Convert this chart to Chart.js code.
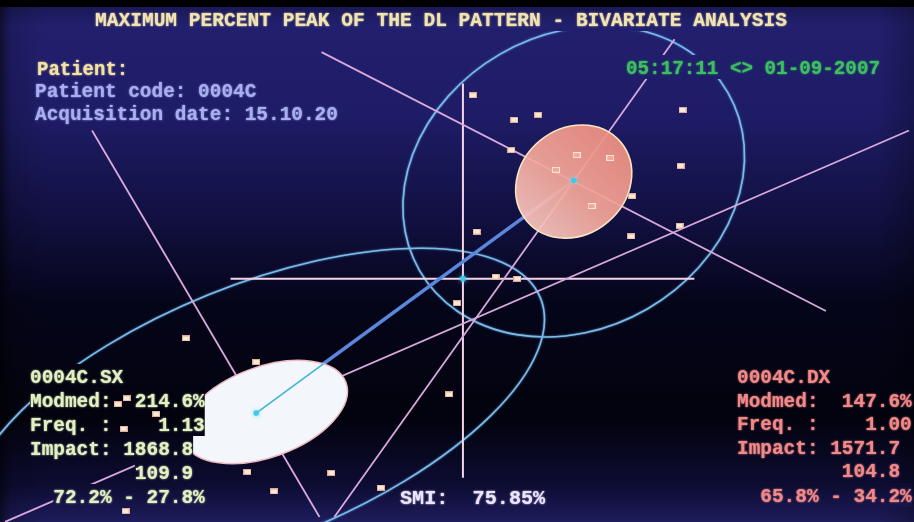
<!DOCTYPE html>
<html>
<head>
<meta charset="utf-8">
<script src="https://cdn.jsdelivr.net/npm/chart.js@4.4.1/dist/chart.umd.min.js"></script>
<style>
html,body{margin:0;padding:0;background:#000;overflow:hidden}
#wrap{width:914px;height:522px;position:relative}
</style>
</head>
<body>
<div id="wrap"><canvas id="c"></canvas></div>
<script>
// ---------------- DATA (screen-plane units) ----------------
const chartTitle = 'MAXIMUM PERCENT PEAK OF THE DL PATTERN - BIVARIATE ANALYSIS';
const patientCode = '0004C';
const acquisitionDate = '15.10.20';
const stamp = '05:17:11 <> 01-09-2007';

// single observations (small square marks)
const markerX = [473, 515, 539, 685, 512, 683, 634, 682, 633, 477, 496, 518, 457, 183, 254, 449, 245, 330, 272, 380, 123, 114, 153, 120, 122];
const markerY = [ 92, 117, 112, 107, 148, 164, 195, 225, 236, 231, 277, 279, 304, 340, 364, 397, 476, 477, 496, 492, 401, 407, 417, 432, 516];
// observations lying inside the DX core ellipse
const innerX = [578, 612, 557, 593];
const innerY = [153, 156, 168, 205];

// centres of the two sides and the reference cross
const dxCentre = [575, 179];
const sxCentre = [254, 416];
const crossCentre = [463, 279];

// ellipses: DX spread, SX spread, DX core, SX core
const ellipseCX    = [575, 254, 575, 263];
const ellipseCY    = [180, 416, 180, 415];
const ellipseA     = [180, 310,  62,  87];
const ellipseB     = [150, 130,  54,  46];
const ellipseAngle = [-30, -22, -40, -20];

// principal axes and reference lines (end points)
const dxAxis1X = [320, 830], dxAxis1Y = [48, 312];
const dxAxis2X = [677, 333], dxAxis2Y = [35, 522];
const sxAxis1X = [0, 914],   sxAxis1Y = [527, 128];
const sxAxis2X = [88, 318],  sxAxis2Y = [128, 522];
const crossHX  = [228, 697], crossHY  = [279, 279];
const crossVX  = [463, 463], crossVY  = [80, 482];

// side statistics
const sxName = '0004C.SX', dxName = '0004C.DX';
const sxStats = ['214.6%', '1.13', '1868.8', '109.9', '72.2%', '27.8%'];
const dxStats = ['147.6%', '1.00', '1571.7', '104.8', '65.8%', '34.2%'];
const smiValue = '75.85%';

// ---------------- helpers ----------------
const pts = (xs, ys) => xs.map((x, i) => ({x: x, y: ys[i]}));

function markerCanvas(fill, edge) {
  const c = document.createElement('canvas');
  c.width = 8; c.height = 6;
  const g = c.getContext('2d');
  g.fillStyle = edge; g.fillRect(0, 0, 8, 6);
  g.fillStyle = fill; g.fillRect(1, 1, 6, 4);
  return c;
}

function lineSet(xs, ys, color, width) {
  return {data: pts(xs, ys), showLine: true, borderColor: color, borderWidth: width,
          pointRadius: 0, clip: false, fill: false, tension: 0};
}

let bgGrad = null;

function ellipsePath(chart, i) {
  const xs = chart.scales.x, ys = chart.scales.y;
  const cx = xs.getPixelForValue(ellipseCX[i]), cy = ys.getPixelForValue(ellipseCY[i]);
  const rx = Math.abs(xs.getPixelForValue(ellipseCX[i] + ellipseA[i]) - cx);
  const ry = Math.abs(ys.getPixelForValue(ellipseCY[i] + ellipseB[i]) - cy);
  const ctx = chart.ctx;
  ctx.beginPath();
  ctx.ellipse(cx, cy, rx, ry, ellipseAngle[i] * Math.PI / 180, 0, Math.PI * 2);
}

const FONT_PX = 21;
const FONT = 'bold ' + FONT_PX + 'px "Liberation Mono", "DejaVu Sans Mono", monospace';

function drawText(ctx, str, x, y, color, adv) {
  ctx.save();
  ctx.font = FONT;
  const nat = ctx.measureText('M').width;
  ctx.translate(x, y + 7);
  ctx.scale(adv / nat, 1);
  ctx.fillStyle = color;
  ctx.shadowColor = color;
  ctx.shadowBlur = 2;
  ctx.textBaseline = 'alphabetic';
  ctx.textAlign = 'left';
  ctx.fillText(str, 0, 0);
  ctx.restore();
}

function pad(s, n) { while (s.length < n) s = ' ' + s; return s; }

function statRows(name, st) {
  return [
    name,
    'Modmed: ' + pad(st[0], 7),
    'Freq. : ' + pad(st[1], 7),
    'Impact: ' + pad(st[2], 6),
    pad(st[3], 14),
    '  ' + st[4] + ' - ' + st[5]
  ];
}

// text layout
const ADV = 11.65;
const texts = [
  {s: chartTitle, x: 95, y: 19, c: '#f2e4b0', a: 692 / chartTitle.length},
  {s: 'Patient:', x: 37, y: 68, c: '#f4e2a4', a: 11.4},
  {s: 'Patient code: ' + patientCode, x: 35, y: 90, c: '#a9aef0', a: ADV},
  {s: 'Acquisition date: ' + acquisitionDate, x: 35, y: 113, c: '#a9aef0', a: ADV},
  {s: stamp, x: 626, y: 67, c: '#3cbf5e', a: 254 / stamp.length},
  {s: 'SMI:  ' + smiValue, x: 400, y: 497, c: '#ebe4ff', a: 12.1}
];
const sxY = [376, 400, 424, 448, 472, 496];
const dxY = [376, 400, 423, 447, 470, 495];
statRows(sxName, sxStats).forEach((s, i) => texts.push({s: s, x: 30, y: sxY[i], c: '#e3f1c2', a: ADV}));
statRows(dxName, dxStats).forEach((s, i) => texts.push({s: s, x: 737, y: dxY[i], c: '#f28888', a: ADV}));

// ---------------- plugin: screen, ellipses, text ----------------
const crt = {
  id: 'crt',
  beforeDraw(chart) {
    const ctx = chart.ctx, w = chart.width, h = chart.height;
    bgGrad = ctx.createLinearGradient(0, 0, 0, h);
    bgGrad.addColorStop(0.00, '#18164e');
    bgGrad.addColorStop(0.05, '#22206e');
    bgGrad.addColorStop(0.22, '#1e1c66');
    bgGrad.addColorStop(0.42, '#111040');
    bgGrad.addColorStop(0.58, '#05051a');
    bgGrad.addColorStop(0.80, '#03030e');
    bgGrad.addColorStop(0.93, '#0d0c32');
    bgGrad.addColorStop(1.00, '#1e1c5c');
    ctx.save();
    ctx.fillStyle = bgGrad;
    ctx.fillRect(0, 0, w, h);
    const side = ctx.createLinearGradient(0, 0, w, 0);
    side.addColorStop(0, 'rgba(0,0,0,0.55)');
    side.addColorStop(0.012, 'rgba(0,0,0,0.15)');
    side.addColorStop(0.05, 'rgba(0,0,0,0)');
    side.addColorStop(0.96, 'rgba(0,0,0,0)');
    side.addColorStop(1, 'rgba(0,0,0,0.25)');
    ctx.fillStyle = side;
    ctx.fillRect(0, 0, w, h);
    ctx.fillStyle = '#000';
    ctx.fillRect(0, 0, w, 7);
    ctx.restore();
  },
  beforeDatasetsDraw(chart) {
    const ctx = chart.ctx;
    ctx.save();
    ctx.strokeStyle = '#7dbbe4';
    ctx.lineWidth = 1.6;
    ctx.shadowColor = '#5aa0e0';
    ctx.shadowBlur = 2;
    ellipsePath(chart, 0); ctx.stroke();
    ellipsePath(chart, 1); ctx.stroke();
    ctx.restore();
  },
  beforeDatasetDraw(chart, args) {
    if (args.index !== 1) return;
    const ctx = chart.ctx, xs = chart.scales.x, ys = chart.scales.y;
    ctx.save();
    // SX core (opaque white)
    ellipsePath(chart, 3);
    ctx.fillStyle = '#f3f7fb';
    ctx.fill();
    ctx.strokeStyle = '#f0b8c0';
    ctx.lineWidth = 1.5;
    ctx.stroke();
    // cyan inner segment of the link line
    ctx.save();
    ellipsePath(chart, 3);
    ctx.clip();
    ctx.beginPath();
    ctx.moveTo(xs.getPixelForValue(sxCentre[0]), ys.getPixelForValue(sxCentre[1]));
    ctx.lineTo(xs.getPixelForValue(dxCentre[0]), ys.getPixelForValue(dxCentre[1]));
    ctx.strokeStyle = '#3fb4d6';
    ctx.lineWidth = 1.6;
    ctx.stroke();
    ctx.restore();
    // DX core (pink, slightly translucent)
    const cx = xs.getPixelForValue(ellipseCX[2]), cy = ys.getPixelForValue(ellipseCY[2]);
    const g = ctx.createLinearGradient(cx + 45, cy - 50, cx - 45, cy + 50);
    g.addColorStop(0, 'rgba(240,142,128,0.93)');
    g.addColorStop(0.55, 'rgba(244,166,154,0.93)');
    g.addColorStop(1, 'rgba(248,200,194,0.93)');
    ellipsePath(chart, 2);
    ctx.fillStyle = g;
    ctx.fill();
    ctx.strokeStyle = '#f7e4c0';
    ctx.lineWidth = 1.6;
    ctx.stroke();
    // centre dots
    [dxCentre, sxCentre, crossCentre].forEach(p => {
      ctx.beginPath();
      ctx.arc(xs.getPixelForValue(p[0]), ys.getPixelForValue(p[1]), 2.8, 0, Math.PI * 2);
      ctx.fillStyle = '#42c8e8';
      ctx.shadowColor = '#60e0ff';
      ctx.shadowBlur = 4;
      ctx.fill();
    });
    ctx.shadowBlur = 0;
    // text cell backgrounds
    ctx.fillStyle = bgGrad;
    texts.forEach(t => {
      const lead = t.s.length - t.s.replace(/^ +/, '').length;
      ctx.fillRect(t.x + lead * t.a, t.y - 12, (t.s.length - lead) * t.a, 24);
    });
    ctx.restore();
  },
  afterDraw(chart) {
    const ctx = chart.ctx;
    texts.forEach(t => drawText(ctx, t.s, t.x, t.y, t.c, t.a));
  }
};

const outerMark = markerCanvas('#f8ecd6', '#e2a898');
const innerMark = markerCanvas('#f1a898', '#fbe8dc');

new Chart(document.getElementById('c'), {
  type: 'scatter',
  data: {
    datasets: [
      {data: pts(markerX, markerY), pointStyle: outerMark, pointRadius: 4, clip: false, showLine: false},
      {data: pts(innerX, innerY), pointStyle: innerMark, pointRadius: 4, clip: false, showLine: false},
      lineSet([sxCentre[0], dxCentre[0]], [sxCentre[1], dxCentre[1]], '#5a86dc', 3.5),
      lineSet(dxAxis1X, dxAxis1Y, '#d8a8dc', 1.8),
      lineSet(dxAxis2X, dxAxis2Y, '#d8a8dc', 1.8),
      lineSet(sxAxis1X, sxAxis1Y, '#d8a8dc', 1.8),
      lineSet(sxAxis2X, sxAxis2Y, '#d8a8dc', 1.8),
      lineSet(crossHX, crossHY, '#f2d4e6', 2),
      lineSet(crossVX, crossVY, '#f2d4e6', 2)
    ]
  },
  options: {
    responsive: true,
    maintainAspectRatio: false,
    animation: false,
    events: [],
    layout: {padding: 0},
    plugins: {legend: {display: false}, tooltip: {enabled: false}, title: {display: false}},
    scales: {
      x: {type: 'linear', min: 0, max: 914, display: false},
      y: {type: 'linear', min: 0, max: 522, reverse: true, display: false}
    }
  },
  plugins: [crt]
});
</script>
</body>
</html>
